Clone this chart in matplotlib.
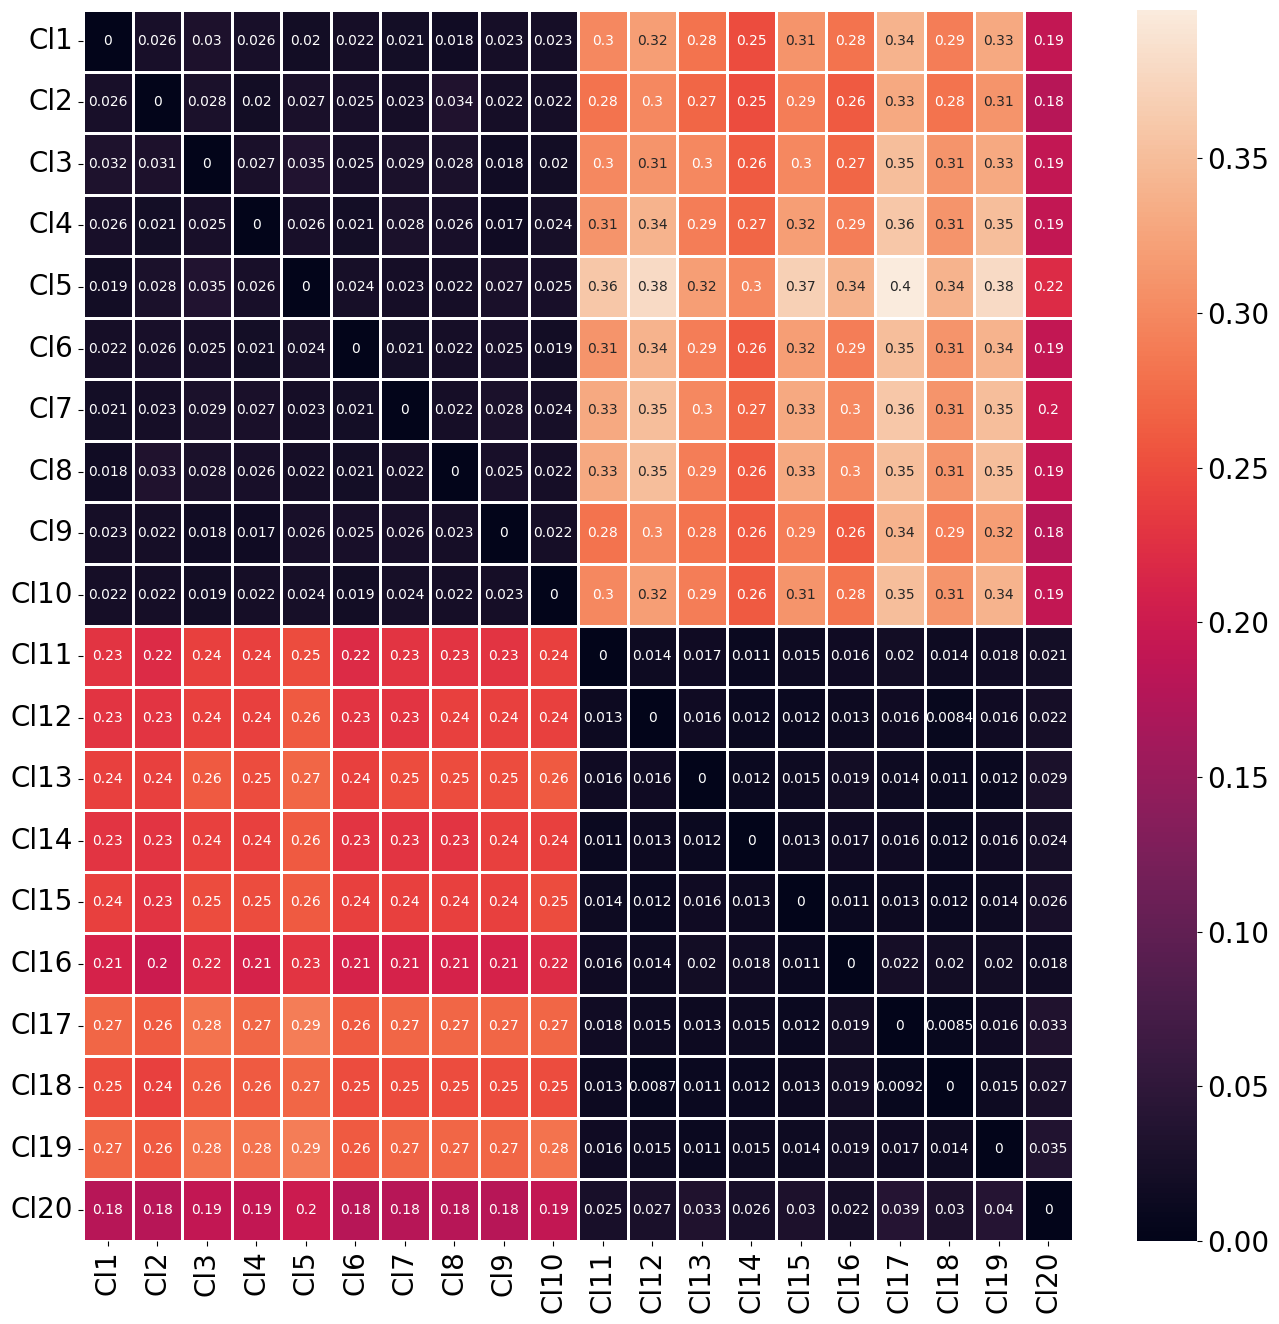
import numpy as np
import matplotlib
matplotlib.use('Agg')
import matplotlib.pyplot as plt
import seaborn as sns

labels = ['Cl{0}'.format(i) for i in range(1, 21)]

rows = [
    [0, 0.026, 0.03, 0.026, 0.02, 0.022, 0.021, 0.018, 0.023, 0.023,
     0.3, 0.32, 0.28, 0.25, 0.31, 0.28, 0.34, 0.29, 0.33, 0.19],
    [0.026, 0, 0.028, 0.02, 0.027, 0.025, 0.023, 0.034, 0.022, 0.022,
     0.28, 0.3, 0.27, 0.25, 0.29, 0.26, 0.33, 0.28, 0.31, 0.18],
    [0.032, 0.031, 0, 0.027, 0.035, 0.025, 0.029, 0.028, 0.018, 0.02,
     0.3, 0.31, 0.3, 0.26, 0.3, 0.27, 0.35, 0.31, 0.33, 0.19],
    [0.026, 0.021, 0.025, 0, 0.026, 0.021, 0.028, 0.026, 0.017, 0.024,
     0.31, 0.34, 0.29, 0.27, 0.32, 0.29, 0.36, 0.31, 0.35, 0.19],
    [0.019, 0.028, 0.035, 0.026, 0, 0.024, 0.023, 0.022, 0.027, 0.025,
     0.36, 0.38, 0.32, 0.3, 0.37, 0.34, 0.398, 0.34, 0.38, 0.22],
    [0.022, 0.026, 0.025, 0.021, 0.024, 0, 0.021, 0.022, 0.025, 0.019,
     0.31, 0.34, 0.29, 0.26, 0.32, 0.29, 0.35, 0.31, 0.34, 0.19],
    [0.021, 0.023, 0.029, 0.027, 0.023, 0.021, 0, 0.022, 0.028, 0.024,
     0.33, 0.35, 0.3, 0.27, 0.33, 0.3, 0.36, 0.31, 0.35, 0.2],
    [0.018, 0.033, 0.028, 0.026, 0.022, 0.021, 0.022, 0, 0.025, 0.022,
     0.33, 0.35, 0.29, 0.26, 0.33, 0.3, 0.35, 0.31, 0.35, 0.19],
    [0.023, 0.022, 0.018, 0.017, 0.026, 0.025, 0.026, 0.023, 0, 0.022,
     0.28, 0.3, 0.28, 0.26, 0.29, 0.26, 0.34, 0.29, 0.32, 0.18],
    [0.022, 0.022, 0.019, 0.022, 0.024, 0.019, 0.024, 0.022, 0.023, 0,
     0.3, 0.32, 0.29, 0.26, 0.31, 0.28, 0.35, 0.31, 0.34, 0.19],
    [0.23, 0.22, 0.24, 0.24, 0.25, 0.22, 0.23, 0.23, 0.23, 0.24,
     0, 0.014, 0.017, 0.011, 0.015, 0.016, 0.02, 0.014, 0.018, 0.021],
    [0.23, 0.23, 0.24, 0.24, 0.26, 0.23, 0.23, 0.24, 0.24, 0.24,
     0.013, 0, 0.016, 0.012, 0.012, 0.013, 0.016, 0.0084, 0.016, 0.022],
    [0.24, 0.24, 0.26, 0.25, 0.27, 0.24, 0.25, 0.25, 0.25, 0.26,
     0.016, 0.016, 0, 0.012, 0.015, 0.019, 0.014, 0.011, 0.012, 0.029],
    [0.23, 0.23, 0.24, 0.24, 0.26, 0.23, 0.23, 0.23, 0.24, 0.24,
     0.011, 0.013, 0.012, 0, 0.013, 0.017, 0.016, 0.012, 0.016, 0.024],
    [0.24, 0.23, 0.25, 0.25, 0.26, 0.24, 0.24, 0.24, 0.24, 0.25,
     0.014, 0.012, 0.016, 0.013, 0, 0.011, 0.013, 0.012, 0.014, 0.026],
    [0.21, 0.2, 0.22, 0.21, 0.23, 0.21, 0.21, 0.21, 0.21, 0.22,
     0.016, 0.014, 0.02, 0.018, 0.011, 0, 0.022, 0.02, 0.02, 0.018],
    [0.27, 0.26, 0.28, 0.27, 0.29, 0.26, 0.27, 0.27, 0.27, 0.27,
     0.018, 0.015, 0.013, 0.015, 0.012, 0.019, 0, 0.0085, 0.016, 0.033],
    [0.25, 0.24, 0.26, 0.26, 0.27, 0.25, 0.25, 0.25, 0.25, 0.25,
     0.013, 0.0087, 0.011, 0.012, 0.013, 0.019, 0.0092, 0, 0.015, 0.027],
    [0.27, 0.26, 0.28, 0.28, 0.29, 0.26, 0.27, 0.27, 0.27, 0.28,
     0.016, 0.015, 0.011, 0.015, 0.014, 0.019, 0.017, 0.014, 0, 0.035],
    [0.18, 0.18, 0.19, 0.19, 0.2, 0.18, 0.18, 0.18, 0.18, 0.19,
     0.025, 0.027, 0.033, 0.026, 0.03, 0.022, 0.039, 0.03, 0.04, 0],
]
dist = np.array(rows)

W, H = 1279, 1324
fig = plt.figure(figsize=(W / 100, H / 100), dpi=100)
ax = fig.add_axes([83 / W, (H - 1241) / H, (1073 - 83) / W, (1241 - 10) / H])
cax = fig.add_axes([1137 / W, (H - 1241) / H, 60 / W, (1241 - 10) / H])

sns.heatmap(dist, ax=ax, cbar_ax=cax, annot=True, annot_kws={'size': 10},
            linewidths=1, linecolor='white',
            xticklabels=labels, yticklabels=labels)

ax.tick_params(axis='both', labelsize=20)
plt.setp(ax.get_yticklabels(), rotation=0)
plt.setp(ax.get_xticklabels(), rotation=90)
cax.tick_params(labelsize=20)

fig.savefig('out.png', dpi=100)
